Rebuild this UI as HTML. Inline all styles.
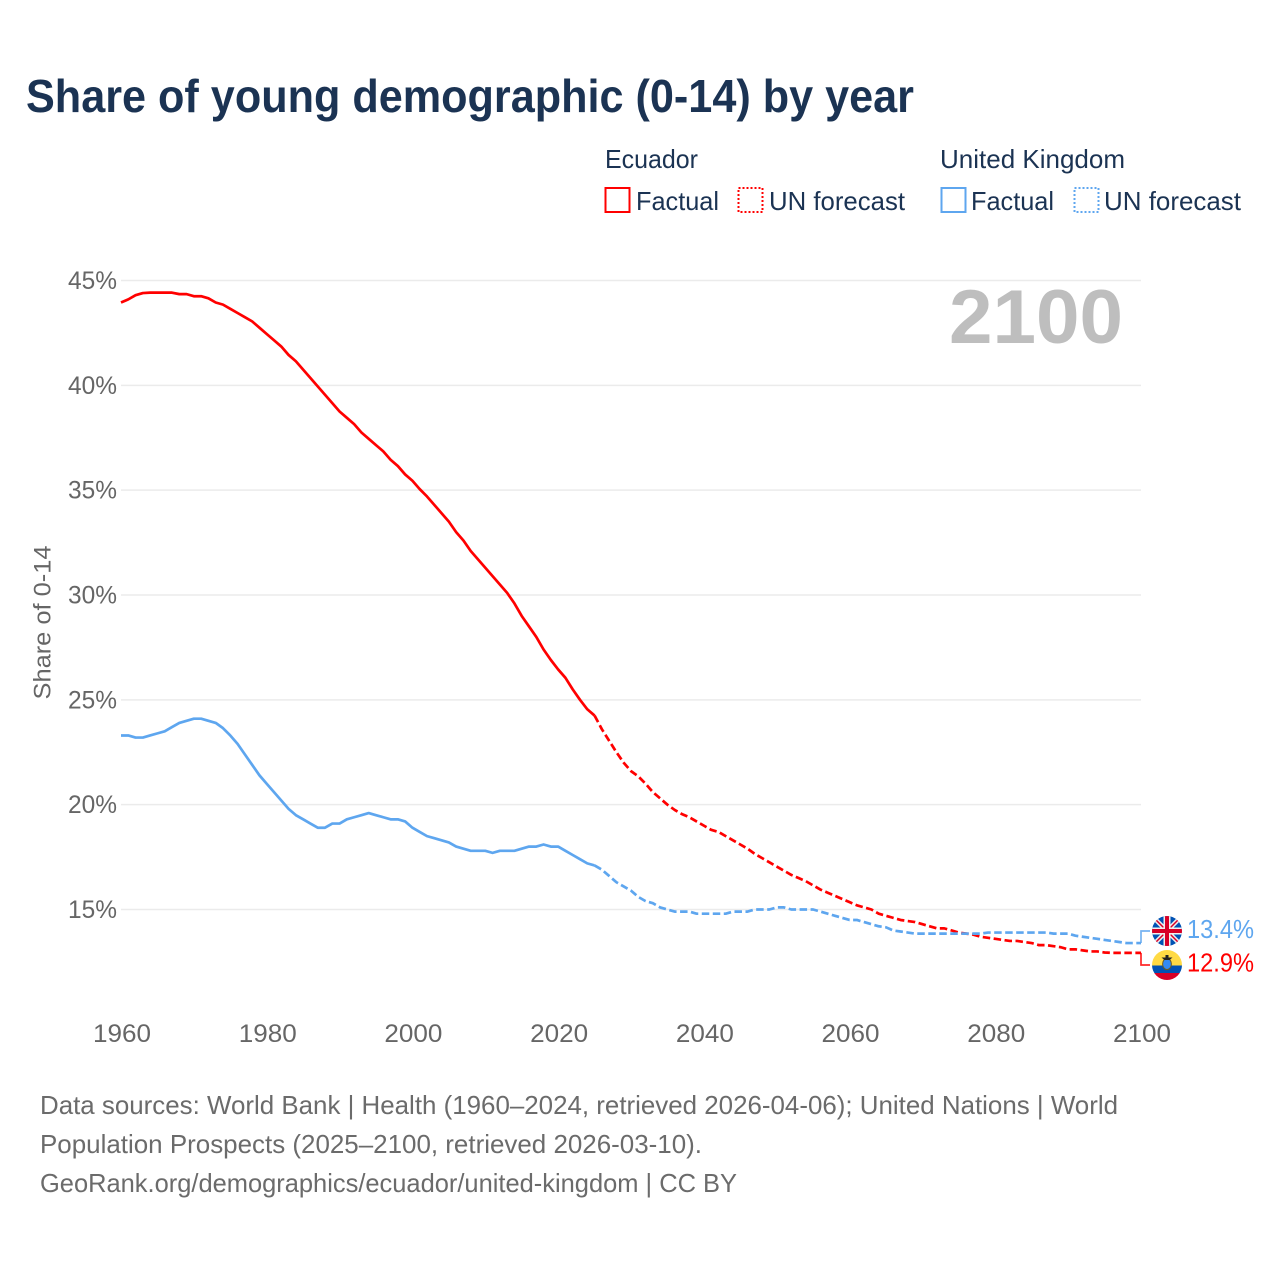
<!DOCTYPE html>
<html lang="en">
<head>
<meta charset="utf-8">
<title>Share of young demographic (0-14) by year</title>
<style>
html,body{margin:0;padding:0;background:#fff;width:1280px;height:1280px;overflow:hidden}
svg{display:block}
text{font-family:"Liberation Sans",sans-serif}
</style>
</head>
<body>
<svg id="chart" xmlns="http://www.w3.org/2000/svg" width="1280" height="1280" viewBox="0 0 1280 1280">
  <rect x="0" y="0" width="1280" height="1280" fill="#ffffff"/>
  <text x="26" y="112" font-size="46" font-weight="700" fill="#1b3353" textLength="888" lengthAdjust="spacingAndGlyphs">Share of young demographic (0-14) by year</text>

  <g font-size="26" fill="#1b3353">
    <text x="605" y="168" textLength="93" lengthAdjust="spacingAndGlyphs">Ecuador</text>
    <text x="940" y="168" textLength="185" lengthAdjust="spacingAndGlyphs">United Kingdom</text>
    <g>
      <rect x="605.5" y="188" width="24" height="24" fill="none" stroke="#ff0000" stroke-width="2"/>
      <text x="636" y="210" textLength="83" lengthAdjust="spacingAndGlyphs">Factual</text>
    </g>
    <g>
      <rect x="738.5" y="188" width="24" height="24" fill="none" stroke="#ff0000" stroke-width="2" stroke-dasharray="2 2"/>
      <text x="769" y="210" textLength="136" lengthAdjust="spacingAndGlyphs">UN forecast</text>
    </g>
    <g>
      <rect x="941.5" y="188" width="24" height="24" fill="none" stroke="#5ea6ef" stroke-width="2"/>
      <text x="971" y="210" textLength="83" lengthAdjust="spacingAndGlyphs">Factual</text>
    </g>
    <g>
      <rect x="1074.5" y="188" width="24" height="24" fill="none" stroke="#5ea6ef" stroke-width="2" stroke-dasharray="2 2"/>
      <text x="1104" y="210" textLength="137" lengthAdjust="spacingAndGlyphs">UN forecast</text>
    </g>
  </g>

  <g id="grid"></g>
  <text x="949" y="343" font-size="76" font-weight="700" fill="#bebebe" textLength="174" lengthAdjust="spacingAndGlyphs">2100</text>
  <g id="y-ticks"></g>
  <g id="x-ticks"></g>
  <text transform="translate(50.5 622.5) rotate(-90)" text-anchor="middle" font-size="24" fill="#666666" textLength="154" lengthAdjust="spacingAndGlyphs">Share of 0-14</text>
  <g id="series"></g>

  <defs>
    <clipPath id="clip-uk"><circle cx="1167" cy="931" r="15"/></clipPath>
    <clipPath id="clip-ec"><circle cx="1167" cy="965" r="15"/></clipPath>
  </defs>
  <g clip-path="url(#clip-uk)">
    <rect x="1152" y="916" width="30" height="30" fill="#0052b4"/>
    <path d="M1152 916L1182 946M1182 916L1152 946" stroke="#f0f0f0" stroke-width="4.5"/>
    <path d="M1152 916L1182 946M1182 916L1152 946" stroke="#d80027" stroke-width="1.5"/>
    <path d="M1167 916V946M1152 931H1182" stroke="#f0f0f0" stroke-width="7"/>
    <path d="M1167 916V946M1152 931H1182" stroke="#d80027" stroke-width="4"/>
  </g>
  <g clip-path="url(#clip-ec)">
    <rect x="1152" y="950" width="30" height="15.5" fill="#ffda44"/>
    <rect x="1152" y="965.5" width="30" height="7.5" fill="#0052b4"/>
    <rect x="1152" y="973" width="30" height="7" fill="#d80027"/>
    <ellipse cx="1167" cy="964" rx="4.4" ry="5.6" fill="#338af3" stroke="#6c5a1e" stroke-width="1"/>
    <path d="M1161.5 957.5h11l-3 2.5h-5zM1165.5 955h3v3h-3z" fill="#222222"/>
  </g>
  <g id="end-labels"></g>

  <g font-size="26" fill="#6b6b6b">
    <text x="40" y="1114" textLength="1078" lengthAdjust="spacingAndGlyphs">Data sources: World Bank | Health (1960–2024, retrieved 2026-04-06); United Nations | World</text>
    <text x="40" y="1153" textLength="662" lengthAdjust="spacingAndGlyphs">Population Prospects (2025–2100, retrieved 2026-03-10).</text>
    <text x="40" y="1192" textLength="697" lengthAdjust="spacingAndGlyphs">GeoRank.org/demographics/ecuador/united-kingdom | CC BY</text>
  </g>
</svg>

<script>
const factualYears = [1960,1961,1962,1963,1964,1965,1966,1967,1968,1969,1970,1971,1972,1973,1974,1975,1976,1977,1978,1979,1980,1981,1982,1983,1984,1985,1986,1987,1988,1989,1990,1991,1992,1993,1994,1995,1996,1997,1998,1999,2000,2001,2002,2003,2004,2005,2006,2007,2008,2009,2010,2011,2012,2013,2014,2015,2016,2017,2018,2019,2020,2021,2022,2023,2024,2025];
const forecastYears = [2025,2026,2027,2028,2029,2030,2031,2032,2033,2034,2035,2036,2037,2038,2039,2040,2041,2042,2043,2044,2045,2046,2047,2048,2049,2050,2051,2052,2053,2054,2055,2056,2057,2058,2059,2060,2061,2062,2063,2064,2065,2066,2067,2068,2069,2070,2071,2072,2073,2074,2075,2076,2077,2078,2079,2080,2081,2082,2083,2084,2085,2086,2087,2088,2089,2090,2091,2092,2093,2094,2095,2096,2097,2098,2099,2100];
const ecuadorFactual = [43.95,44.1,44.3,44.4,44.42,44.42,44.42,44.42,44.35,44.35,44.25,44.25,44.15,43.95,43.85,43.65,43.45,43.25,43.05,42.75,42.45,42.15,41.85,41.45,41.15,40.75,40.35,39.95,39.55,39.15,38.75,38.45,38.15,37.75,37.45,37.15,36.85,36.45,36.15,35.75,35.45,35.05,34.7,34.3,33.9,33.5,33.0,32.6,32.1,31.7,31.3,30.9,30.5,30.1,29.6,29.0,28.5,28.0,27.4,26.9,26.45,26.05,25.5,25.0,24.55,24.25];
const ecuadorForecast = [24.25,23.6,23.05,22.5,22.0,21.6,21.35,21.0,20.6,20.3,20.0,19.75,19.55,19.4,19.2,19.0,18.8,18.7,18.5,18.3,18.1,17.9,17.65,17.45,17.25,17.05,16.85,16.65,16.5,16.35,16.15,15.95,15.8,15.65,15.5,15.35,15.2,15.1,15.0,14.8,14.7,14.6,14.5,14.45,14.4,14.3,14.2,14.1,14.1,14.0,13.9,13.85,13.8,13.7,13.65,13.6,13.55,13.5,13.5,13.45,13.4,13.3,13.3,13.25,13.2,13.1,13.1,13.05,13.0,13.0,12.95,12.93,12.93,12.93,12.93,12.93];
const ukFactual = [23.3,23.3,23.2,23.2,23.3,23.4,23.5,23.7,23.9,24.0,24.1,24.1,24.0,23.9,23.65,23.3,22.9,22.4,21.9,21.4,21.0,20.6,20.2,19.8,19.5,19.3,19.1,18.9,18.9,19.1,19.1,19.3,19.4,19.5,19.6,19.5,19.4,19.3,19.3,19.2,18.9,18.7,18.5,18.4,18.3,18.2,18.0,17.9,17.8,17.8,17.8,17.7,17.8,17.8,17.8,17.9,18.0,18.0,18.1,18.0,18.0,17.8,17.6,17.4,17.2,17.1];
const ukForecast = [17.1,16.9,16.6,16.3,16.1,15.9,15.6,15.4,15.3,15.1,15.0,14.9,14.9,14.9,14.8,14.8,14.8,14.8,14.8,14.9,14.9,14.9,15.0,15.0,15.0,15.1,15.1,15.0,15.0,15.0,15.0,14.9,14.8,14.7,14.6,14.5,14.5,14.4,14.3,14.2,14.15,14.0,13.95,13.9,13.85,13.85,13.85,13.85,13.85,13.85,13.85,13.85,13.85,13.85,13.9,13.9,13.9,13.9,13.9,13.9,13.9,13.9,13.9,13.85,13.85,13.85,13.75,13.7,13.65,13.6,13.55,13.5,13.45,13.4,13.4,13.4];
const yTickValues = [15,20,25,30,35,40,45];
const yTickLabels = ["15%","20%","25%","30%","35%","40%","45%"];
const xTickValues = [1960,1980,2000,2020,2040,2060,2080,2100];
const xTickLabels = ["1960","1980","2000","2020","2040","2060","2080","2100"];

const SVG_NS = 'http://www.w3.org/2000/svg';
const RED = '#ff0000';
const BLUE = '#5ea6ef';

function xScale(year) { return 121 + (year - 1960) * (1020 / 140); }
function yScale(value) { return 909.5 - (value - 15) * (629 / 30); }

function make(parent, tag, attrs, text) {
  const el = document.createElementNS(SVG_NS, tag);
  for (const k in attrs) el.setAttribute(k, attrs[k]);
  if (text !== undefined) el.textContent = text;
  parent.appendChild(el);
  return el;
}

function linePath(years, values) {
  return years.map((y, i) => (i ? 'L' : 'M') + xScale(y).toFixed(2) + ' ' + yScale(values[i]).toFixed(2)).join('');
}

const gridGroup = document.getElementById('grid');
const yTickGroup = document.getElementById('y-ticks');
yTickValues.forEach((v, i) => {
  const g = make(gridGroup, 'line', {x1: 121, x2: 1141, y1: yScale(v), y2: yScale(v), stroke: '#ebebeb', 'stroke-width': 1.5});
  
  
  const t = make(yTickGroup, 'text', {x: 68, y: yScale(v) + 8.5, 'font-size': 25, fill: '#666666', textLength: 49, lengthAdjust: 'spacingAndGlyphs'}, yTickLabels[i]);
  
  
});

const xTickGroup = document.getElementById('x-ticks');
xTickValues.forEach((v, i) => {
  const t = make(xTickGroup, 'text', {x: xScale(v) - 28, y: 1042, 'font-size': 25, fill: '#666666', textLength: 58, lengthAdjust: 'spacingAndGlyphs'}, xTickLabels[i]);
  
  
});

const seriesGroup = document.getElementById('series');
const commonLine = {fill: 'none', 'stroke-width': 2.7, 'stroke-linejoin': 'round'};

const ecF = make(seriesGroup, 'path', Object.assign({d: linePath(factualYears, ecuadorFactual), stroke: RED}, commonLine));


const ecP = make(seriesGroup, 'path', Object.assign({d: linePath(forecastYears, ecuadorForecast), stroke: RED, 'stroke-dasharray': '7.5 3.5'}, commonLine));


const ukF = make(seriesGroup, 'path', Object.assign({d: linePath(factualYears, ukFactual), stroke: BLUE}, commonLine));


const ukP = make(seriesGroup, 'path', Object.assign({d: linePath(forecastYears, ukForecast), stroke: BLUE, 'stroke-dasharray': '7.5 3.5'}, commonLine));



const endGroup = document.getElementById('end-labels');
const xEnd = xScale(forecastYears[forecastYears.length - 1]);

const ukLast = ukForecast[ukForecast.length - 1];
const ukConn = make(endGroup, 'path', {d: 'M' + xEnd + ' ' + yScale(ukLast) + 'V931H1150', fill: 'none', stroke: BLUE, 'stroke-width': 1.7, opacity: 0.85});


const ukText = make(endGroup, 'text', {x: 1187, y: 938, 'font-size': 26, fill: BLUE, textLength: 67, lengthAdjust: 'spacingAndGlyphs'}, ukLast.toFixed(1) + '%');



const ecLast = ecuadorForecast[ecuadorForecast.length - 1];
const ecConn = make(endGroup, 'path', {d: 'M' + xEnd + ' ' + yScale(ecLast) + 'V965H1150', fill: 'none', stroke: RED, 'stroke-width': 1.7, opacity: 0.85});


const ecText = make(endGroup, 'text', {x: 1187, y: 971.5, 'font-size': 26, fill: RED, textLength: 67, lengthAdjust: 'spacingAndGlyphs'}, ecLast.toFixed(1) + '%');


</script>
</body>
</html>
